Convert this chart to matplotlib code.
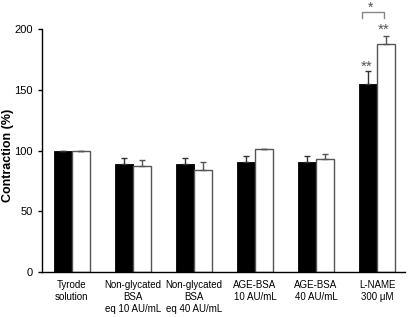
import matplotlib.pyplot as plt
import numpy as np

plt.rcParams['font.family'] = ['Liberation Sans', 'DejaVu Sans']

# data
groups = ['Tyrode\nsolution', 'Non-glycated\nBSA\neq 10 AU/mL',
          'Non-glycated\nBSA\neq 40 AU/mL', 'AGE-BSA\n10 AU/mL',
          'AGE-BSA\n40 AU/mL', 'L-NAME\n300 \u03bcM']
black_vals = [100, 89, 89, 90.5, 90.5, 155]
black_err = [0, 5, 5, 5, 5, 10.5]
white_vals = [100, 87.3, 84, 101, 92.8, 187.5]
white_err = [0, 5, 7, 0, 4.5, 7]

fig = plt.figure(figsize=(4.08, 3.17), dpi=100)
ax = fig.add_axes([0.103, 0.142, 0.890, 0.766])

x = np.arange(len(groups))
w = 0.30
ax.bar(x - w / 2, black_vals, w, color='black', edgecolor='black', linewidth=0.6,
       yerr=[np.zeros(len(x)), black_err], error_kw=dict(ecolor='#333333', elinewidth=1.0, capsize=2.5, capthick=1.0))
ax.bar(x + w / 2, white_vals, w, color='white', edgecolor='#555555', linewidth=1.0,
       yerr=[np.zeros(len(x)), white_err], error_kw=dict(ecolor='#555555', elinewidth=1.0, capsize=2.5, capthick=1.0))

# significance marks on L-NAME
i = len(groups) - 1
ax.text(i - 0.17, 166, '**', ha='center', va='baseline', fontsize=11, color='#555555', clip_on=False)
ax.text(i + 0.11, 196, '**', ha='center', va='baseline', fontsize=11, color='#555555', clip_on=False)
ax.plot([i - 0.248, i - 0.248, i + 0.12, i + 0.12], [209, 214.4, 214.4, 209], color='#888888', lw=1.0, clip_on=False)
ax.text(i - 0.10, 214.5, '*', ha='center', va='baseline', fontsize=10, color='#555555', clip_on=False)

ax.set_xlim(-0.49, 5.46)
ax.set_ylim(0, 200)
ax.set_yticks([0, 50, 100, 150, 200])
ax.set_xticks(x)
ax.set_xticklabels(groups, fontsize=7, linespacing=1.3)
ax.tick_params(axis='x', length=0, pad=5.5)
ax.tick_params(axis='y', labelsize=8, length=3, width=1.0, pad=3.5)
ax.spines['top'].set_visible(False)
ax.spines['right'].set_visible(False)
ax.spines['left'].set_linewidth(1.0)
ax.spines['bottom'].set_linewidth(1.0)
fig.text(0.004, 0.511, 'Contraction (%)', rotation=90, ha='left', va='center',
         fontsize=9, fontweight='bold')

fig.savefig('out.png', dpi=100)
